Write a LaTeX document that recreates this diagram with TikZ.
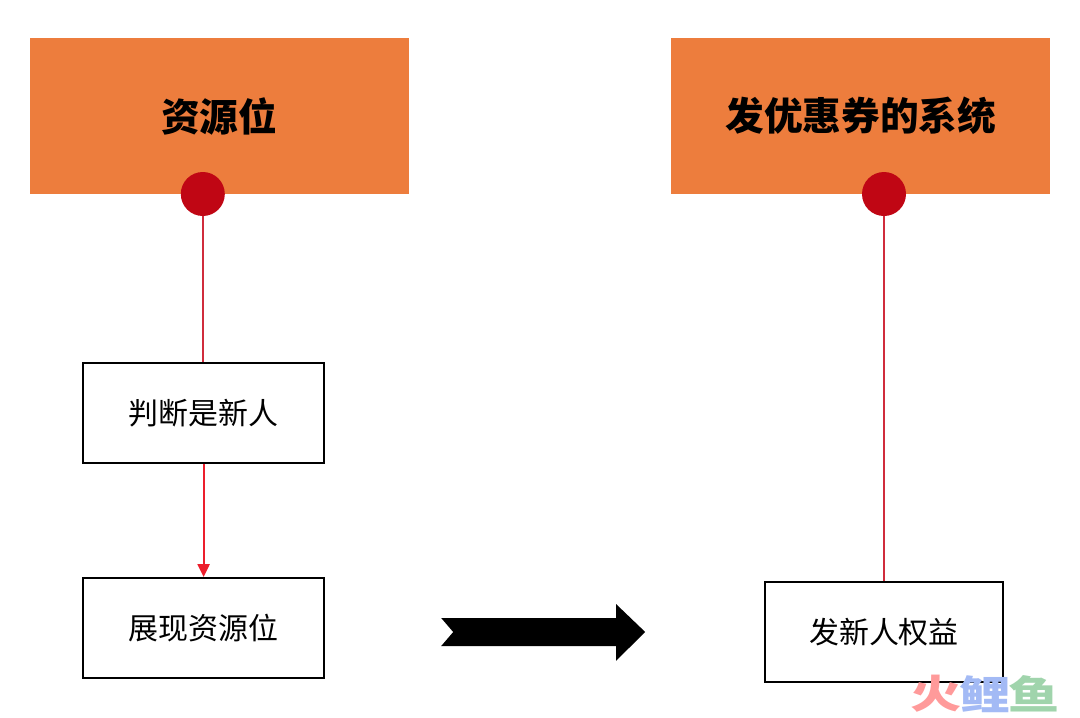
\documentclass[tikz,border=0pt]{standalone}
\usepackage{fontspec}
\setmainfont{Noto Sans CJK SC}
\usetikzlibrary{arrows.meta,positioning,calc}
\definecolor{res}{RGB}{237,125,61}
\definecolor{pin}{RGB}{192,6,20}
\definecolor{link}{RGB}{208,44,60}
\definecolor{linkb}{RGB}{236,30,44}
\definecolor{wmred}{RGB}{255,154,154}
\definecolor{wmblue}{RGB}{163,186,245}
\definecolor{wmgreen}{RGB}{160,212,172}
\begin{document}
\begin{tikzpicture}[x=1cm, y=1cm,
  sys/.style={fill=res, minimum width=9.48cm, minimum height=3.92cm, inner sep=0pt,
              font=\fontsize{27.5}{30}\selectfont\bfseries},
  stepbox/.style={draw, line width=0.05cm, fill=white, minimum width=6.03cm,
              minimum height=2.5cm, inner sep=0pt, font=\fontsize{21.3}{24}\selectfont},
  pin/.style={circle, fill=pin, minimum size=1.1cm, inner sep=0pt},
  ln/.style={line width=0.06cm, link},
  ar/.style={-{Triangle[length=0.32cm,width=0.3cm]}, line width=0.05cm, linkb},
  wm/.style={font=\fontsize{28}{30}\selectfont\bfseries, inner sep=0pt, xscale=1.3}]
\useasboundingbox (0,0) rectangle (27,-17.925);
\node[sys] (res) at (5.48,-2.9)   {资源位};
\node[sys] (cou) at (21.52,-2.9)  {发优惠券的系统};
\node[pin] (pa) at (5.07,-4.85)   {};
\node[pin] (pb) at (22.1,-4.85)   {};
\node[stepbox] (chk)  at (5.09,-10.32)  {判断是新人};
\node[stepbox] (show) at (5.09,-15.7)   {展现资源位};
\node[stepbox, minimum width=5.97cm] (give) at (22.1,-15.81) {发新人权益};
\draw[ln] (pa) -- (pa |- chk.north);
\draw[ar] (chk) -- (show);
\draw[ln] (pb) -- (give);
\fill (11.03,-15.45) -- (15.4,-15.45) -- (15.4,-15.1) -- (16.13,-15.8) -- (15.4,-16.52)
  -- (15.4,-16.15) -- (11.03,-16.15) -- (11.33,-15.8) -- cycle;
\node[wm, text=wmred] (wa) at (23.4,-17.35) {火};
\node[wm, text=wmblue] (wb) at (24.62,-17.35) {鲤};
\node[wm, text=wmgreen] (wc) at (25.85,-17.35) {鱼};
\end{tikzpicture}
\end{document}
